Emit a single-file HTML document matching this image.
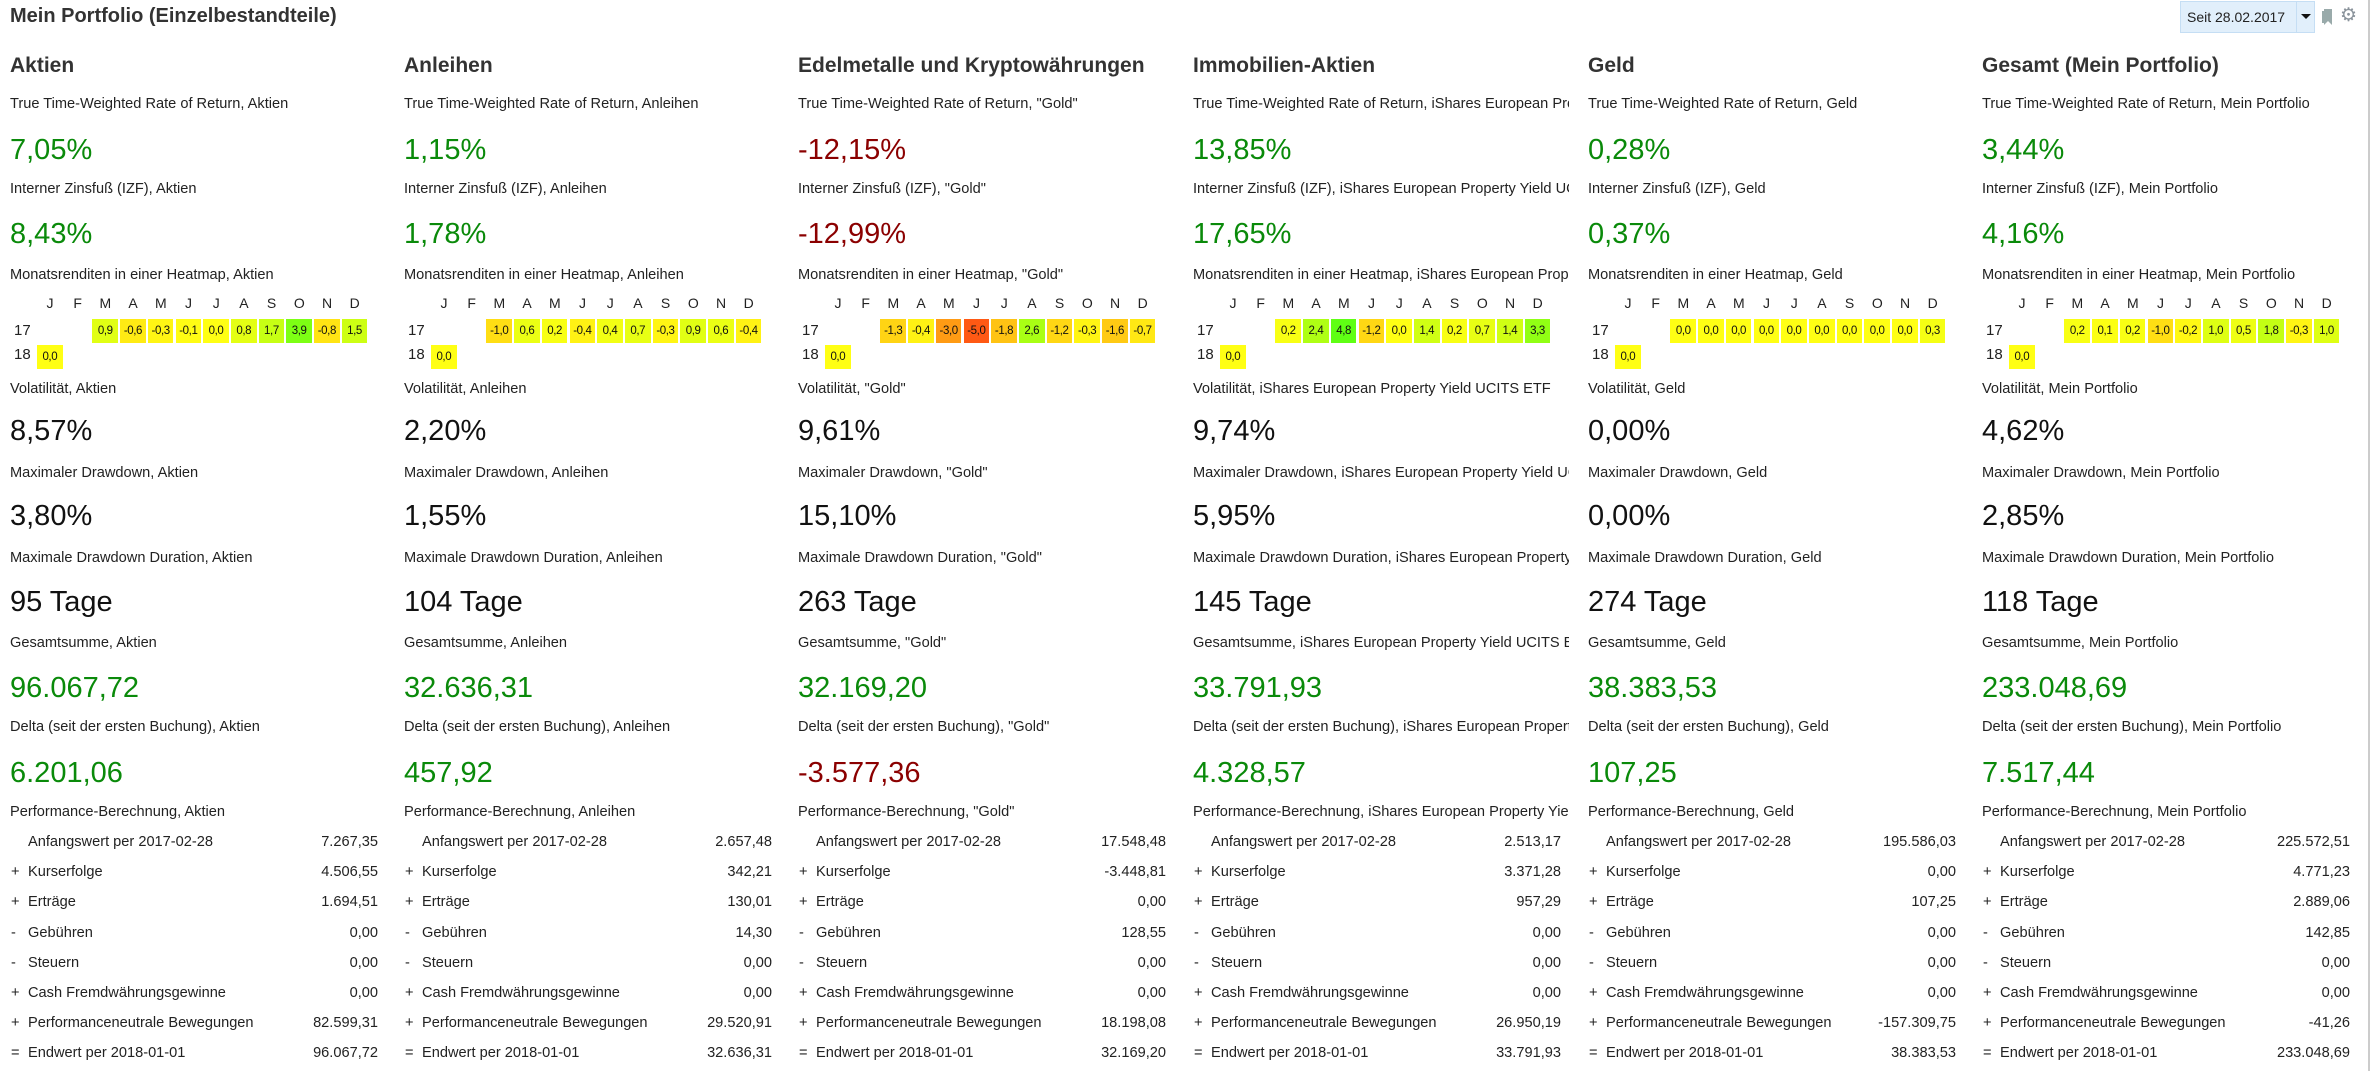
<!DOCTYPE html>
<html><head><meta charset="utf-8">
<style>
body{margin:0;width:2371px;height:1071px;background:#fff;position:relative;overflow:hidden;font-family:"Liberation Sans",sans-serif;color:#222}
.a{position:absolute;white-space:nowrap}
.col{position:absolute;top:0;height:1071px;width:376px;overflow:hidden}
.t{font-weight:bold;font-size:21px;color:#333}
.lb{font-size:14.6px;line-height:16px}
.v{font-size:29px;line-height:32px}
.g{color:#0a8a0a}.r{color:#8b0000}.k{color:#111}
.cell{position:absolute;height:24px;font-size:11.5px;line-height:24px;text-align:center;letter-spacing:-0.4px;color:#111}
</style></head><body>
<div class="a t" style="left:10px;top:5px;font-size:20px">Mein Portfolio (Einzelbestandteile)</div>
<div class="a" style="left:2180px;top:1px;width:135px;height:32px;background:#e1effb;border:1px solid #c5def4;box-sizing:border-box">
 <span class="a" style="left:6px;top:7px;font-size:14px;color:#222">Seit 28.02.2017</span>
 <div class="a" style="left:115px;top:0;width:1px;height:30px;background:#c5def4"></div>
 <div class="a" style="left:120px;top:12px;width:0;height:0;border-left:5px solid transparent;border-right:5px solid transparent;border-top:5px solid #111"></div>
</div>
<svg class="a" style="left:2322px;top:9px" width="10" height="16"><path d="M2 0h8v16l-4-4-4 4z" fill="#9aa"/><rect x="0" y="2" width="2" height="12" fill="#9aa"/></svg>
<div class="a" style="left:2340px;top:4px;font-size:19px;color:#8a939b">⚙</div>
<div class="a" style="left:2368px;top:0;width:2px;height:1071px;background:#ccc"></div>
<div id="root"></div>
<script>
const colTitles=["Aktien","Anleihen","Edelmetalle und Kryptowährungen","Immobilien-Aktien","Geld","Gesamt (Mein Portfolio)"];
const subjects=["Aktien","Anleihen","\"Gold\"","iShares European Property Yield UCITS ETF","Geld","Mein Portfolio"];
const twr=["7,05%","1,15%","-12,15%","13,85%","0,28%","3,44%"];
const izf=["8,43%","1,78%","-12,99%","17,65%","0,37%","4,16%"];
const vol=["8,57%","2,20%","9,61%","9,74%","0,00%","4,62%"];
const mdd=["3,80%","1,55%","15,10%","5,95%","0,00%","2,85%"];
const mdur=["95 Tage","104 Tage","263 Tage","145 Tage","274 Tage","118 Tage"];
const totals=["96.067,72","32.636,31","32.169,20","33.791,93","38.383,53","233.048,69"];
const deltas=["6.201,06","457,92","-3.577,36","4.328,57","107,25","7.517,44"];
const months=["J","F","M","A","M","J","J","A","S","O","N","D"];
const heat17=[
 [null,null,0.9,-0.6,-0.3,-0.1,0.0,0.8,1.7,3.9,-0.8,1.5],
 [null,null,-1.0,0.6,0.2,-0.4,0.4,0.7,-0.3,0.9,0.6,-0.4],
 [null,null,-1.3,-0.4,-3.0,-5.0,-1.8,2.6,-1.2,-0.3,-1.6,-0.7],
 [null,null,0.2,2.4,4.8,-1.2,0.0,1.4,0.2,0.7,1.4,3.3],
 [null,null,0.0,0.0,0.0,0.0,0.0,0.0,0.0,0.0,0.0,0.3],
 [null,null,0.2,0.1,0.2,-1.0,-0.2,1.0,0.5,1.8,-0.3,1.0]];
const heat18=[0.0,0.0,0.0,0.0,0.0,0.0];
const perfSigns=["","+","+","-","-","+","+","="];
const perfLabels=["Anfangswert per 2017-02-28","Kurserfolge","Erträge","Gebühren","Steuern","Cash Fremdwährungsgewinne","Performanceneutrale Bewegungen","Endwert per 2018-01-01"];
const perfValues=[
 ["7.267,35","4.506,55","1.694,51","0,00","0,00","0,00","82.599,31","96.067,72"],
 ["2.657,48","342,21","130,01","14,30","0,00","0,00","29.520,91","32.636,31"],
 ["17.548,48","-3.448,81","0,00","128,55","0,00","0,00","18.198,08","32.169,20"],
 ["2.513,17","3.371,28","957,29","0,00","0,00","0,00","26.950,19","33.791,93"],
 ["195.586,03","0,00","107,25","0,00","0,00","0,00","-157.309,75","38.383,53"],
 ["225.572,51","4.771,23","2.889,06","142,85","0,00","0,00","-41,26","233.048,69"]];

const root=document.getElementById('root');
function el(parent,cls,txt,style){const d=document.createElement('div');d.className=cls;if(txt!==null)d.textContent=txt;d.style.cssText=style;parent.appendChild(d);return d;}
function sign(s){return s.trim().startsWith('-')?'r':'g';}
function fmt(v){return v.toFixed(1).replace('.',',');}
function heatColor(v){const h=60+8.5*v;return 'hsl('+Math.max(15,Math.min(105,h))+',100%,54%)';}
const colX=[10,404,798,1193,1588,1982];
colTitles.forEach((title,i)=>{
 const c=el(root,'col',null,'left:'+colX[i]+'px');
 
 
 const s=subjects[i];
 const h=el(c,'a t',title,'left:0;top:54px');
 
 
 const rows=[
  [96,'True Time-Weighted Rate of Return, '+s,134,twr[i],sign(twr[i])],
  [181,'Interner Zinsfuß (IZF), '+s,218,izf[i],sign(izf[i])],
  [381,'Volatilität, '+s,415,vol[i],'k'],
  [465,'Maximaler Drawdown, '+s,500,mdd[i],'k'],
  [550,'Maximale Drawdown Duration, '+s,586,mdur[i],'k'],
  [635,'Gesamtsumme, '+s,672,totals[i],sign(totals[i])],
  [719,'Delta (seit der ersten Buchung), '+s,757,deltas[i],sign(deltas[i])]];
 rows.forEach(r=>{
  const l=el(c,'a lb',r[1],'left:0;top:'+r[0]+'px');
  
  
  const v=el(c,'a v '+r[4],r[3],'left:0;top:'+r[2]+'px');
  
  
 });
 const hl=el(c,'a lb','Monatsrenditen in einer Heatmap, '+s,'left:0;top:267px');
 
 
 months.forEach((mo,j)=>{
  const t=el(c,'a',mo,'left:'+(27+j*27.7)+'px;width:26px;text-align:center;top:295px;font-size:14px');
  
  
  const v=heat17[i][j];
  if(v!==null){
   const cc=el(c,'cell',fmt(v),'left:'+(27+j*27.7)+'px;top:319px;width:25.7px;background:'+heatColor(v));
   
   
  }
 });
 el(c,'a','17','left:4px;top:322px;font-size:15px');
 el(c,'a','18','left:4px;top:346px;font-size:15px');
 const c18=el(c,'cell',fmt(heat18[i]),'left:27px;top:345px;width:25.7px;background:'+heatColor(heat18[i]));
 
 
 const pl=el(c,'a lb','Performance-Berechnung, '+s,'left:0;top:804px');
 
 
 perfLabels.forEach((lab,k)=>{
  const y=834+k*30.2;
  el(c,'a lb',perfSigns[k],'left:1px;top:'+y+'px');
  const pr=el(c,'a lb',lab,'left:18px;top:'+y+'px');
  
  
  const pv=el(c,'a lb',perfValues[i][k],'right:'+(376-368)+'px;top:'+y+'px');
  
  
 });
});
</script>
</body></html>
